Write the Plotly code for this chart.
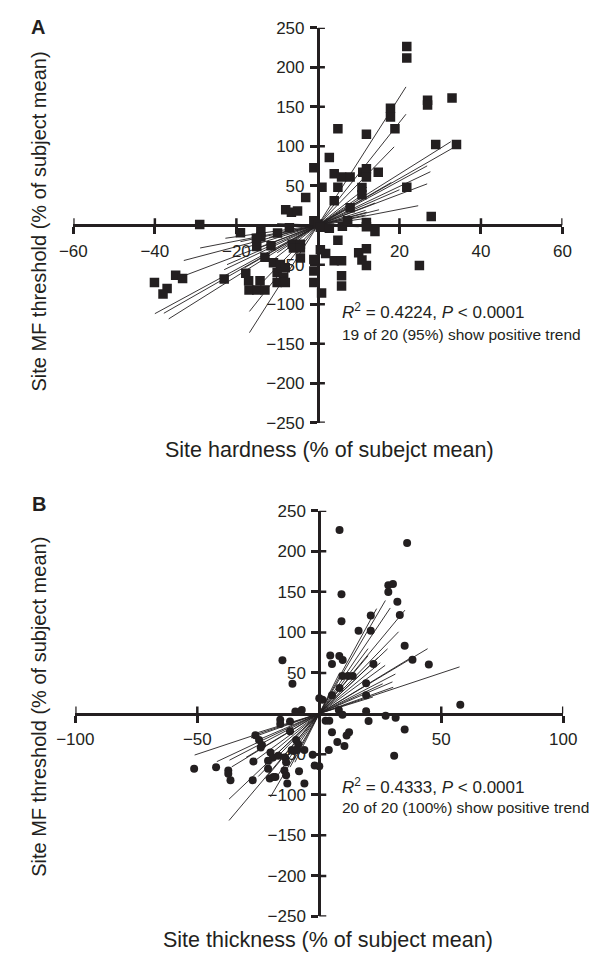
import plotly.graph_objects as go

# ---------------- Panel A data: site hardness vs MF threshold ----------------
hard_x = [21.8, 21.8, 26.9, 26.9, 32.9, 17.8, 17.8, 18.9, 4.9, 11.9,
          28.9, 34.0, 2.8, -1.0, 4.0, 5.8, 7.9, 11.0, 11.9, 11.9,
          14.8, 1.0, 4.9, 10.8, 10.8, 21.8, -3.0, 4.0, -7.9, -6.5,
          -5.0, 7.9, 27.8, -29.0, -19.0, -14.0, -9.9, -7.0, -1.0, 0.0,
          0.6, 2.8, 6.0, 7.3, 11.9, 11.9, 14.0, -15.0, -14.0, -11.5,
          -6.3, -4.3, 4.9, -6.0, -4.3, -13.0, -10.9, -9.2, -8.0, -10.0,
          -8.4, 0.6, 1.9, -1.0, 4.0, 5.8, 10.0, 11.9, 10.8, 11.9,
          24.9, -10.0, -8.0, -17.7, -17.0, -23.0, -16.9, -15.0, -13.0, -14.2,
          -1.0, -1.0, 0.9, 5.8, 5.8, -40.1, -34.9, -33.2, -37.0, -38.0,
          -4.3, -15.1]
hard_y = [226, 211.6, 158, 152, 161, 148, 137, 122, 122, 115,
          102, 102, 85.5, 72.8, 65, 61, 61, 67, 71.5, 61,
          67, 48, 48, 47.6, 38.5, 48, 35, 31, 19.5, 16.5,
          18, 22, 11, 1, -9.6, -8.3, -10, -3.3, 5.5, 1.4,
          -2.7, -4, -1.4, 5.5, 3.5, -2, -8, -27, -15, -26,
          -24, -24, -19, -29, -29, -40.6, -47.7, -49.8, -54, -60,
          -66, -31, -36, -43.5, -45, -45, -35, -30, -44, -51,
          -51, -72.5, -72.5, -61, -70.5, -68, -82, -82, -82, -70.5,
          -58, -72.5, -86, -64, -77, -72.5, -63.4, -67.5, -80, -87,
          -41.5, -16.6]

# per-subject regression lines (slope, x extent)
hard_slope = [8.1, 6.5, 5.3, 3.24, 2.95, 2.8, 2.45, 1.95, 1.36, 1.0,
              2.24, 0.73, 1.6, 1.1, 4.0, 3.5, 2.0, 1.3, 3.0, -0.2]
hard_xmin = [-16.8, -16.8, -13.4, -36.6, -37.8, -40.0, -23.0, -32.4, -32.9, -28.9,
             -22.3, -22.7, -18.0, -19.0, -12.0, -10.0, -15.0, -12.0, -18.0, -10.0]
hard_xmax = [21.6, 21.6, 18.7, 32.6, 33.0, 26.8, 27.6, 26.8, 12.0, 24.6,
             20.0, 11.7, 11.7, 11.7, 12.0, 10.0, 14.0, 15.0, 18.0, 10.0]

# ---------------- Panel B data: site thickness vs MF threshold ----------------
thick_x = [8.3, 36.0, 28.3, 30.2, 28.3, 32.0, 9.1, 33.0, 21.1, 9.1,
           16.1, 21.1, 35.0, 38.2, 44.9, -15.1, 4.5, 5.2, 8.2, 9.6,
           22.2, 9.5, 11.8, 13.7, 19.2, -11.0, 8.3, 0.0, 1.3, 5.2,
           19.2, 57.8, 8.0, 9.5, 19.2, 20.2, 27.2, 31.3, -9.8, -7.2,
           -12.0, -16.0, -16.0, 2.6, 4.1, -12.0, 5.2, 35.0, 12.2, 11.2,
           -26.2, -24.7, -23.5, -24.0, -9.5, -8.6, -10.6, 7.4, 10.3, 3.9,
           -20.0, -19.0, -16.8, -14.0, -13.6, -11.3, -9.1, -6.1, -2.7, -1.9,
           0.0, 30.7, -51.3, -42.3, -37.3, -37.3, -36.4, -27.0, -21.0, -21.0,
           -27.3, -20.3, -18.8, -18.0, -14.3, -13.6, -13.1, -8.3, -6.1]
thick_y = [226, 210, 158, 159.7, 149.8, 137.7, 147, 121.5, 120.8, 113.7,
           102, 102, 83.7, 66.4, 60.4, 65.6, 71.6, 61.1, 70.8, 66,
           61, 46.3, 46.3, 46.3, 37.4, 36.6, 31.5, 19, 17, 22.5,
           22.5, 10.9, 4.4, -1.6, 2.8, -9.2, -2.8, -5.2, 2.4, 4.4,
           -9.7, -7.6, -12.9, -8.9, -8.9, -21.7, -23, -19.7, -23, -27,
           -26.6, -32.6, -38.6, -41.9, -32.6, -37.8, -45.9, -35, -40, -45,
           -48, -54, -52, -54, -60, -45, -45, -45, -50.7, -64,
           -64.8, -52, -68, -66, -70, -74, -82, -59, -58, -68,
           -82, -80, -78, -78, -70, -76, -86, -71, -86]

thick_slope = [5.14, 4.47, 3.63, 3.56, 3.1, 2.85, 1.8, 1.0, 1.83, 1.56,
               1.07, 1.41, 0.93, 2.86, 5.5, 6.0, 2.2, 1.3, 4.0, 2.5]
thick_xmin = [-20.0, -18.0, -22.0, -37.0, -25.0, -37.0, -30.0, -51.1, -35.9, -36.8,
              -28.0, -42.0, -26.9, -22.4, -12.0, -10.0, -27.0, -25.0, -15.0, -20.0]
thick_xmax = [27.1, 29.1, 35.1, 20.0, 32.5, 28.0, 44.4, 57.5, 37.7, 31.2,
              30.3, 26.0, 22.0, 24.0, 23.5, 8.4, 27.0, 30.0, 20.0, 25.0]

# axes ticks
a_xticks = [-60, -40, -20, 20, 40, 60]
b_xticks = [-100, -50, 50, 100]
y_ticks = [-250, -200, -150, -100, -50, 50, 100, 150, 200, 250]

FONT = "Liberation Sans, Arial, sans-serif"
INK = "#231f20"
W, H = 602, 966
TL = 7  # tick half-length (px)

# plot-area pixel boxes (left, right, top, bottom)
A_box = (57.5, 575.0, 19.0, 422.0)
B_box = (59.6, 575.8, 511.7, 925.7)


def dom(box):
    l, r, t, b = box
    return [l / W, r / W], [1 - b / H, 1 - t / H]


fig = go.Figure()

for xs_, ys_, slopes, xmins, xmaxs, sym, msize, ax in [
    (hard_x, hard_y, hard_slope, hard_xmin, hard_xmax, "square", 9.5, ("x", "y")),
    (thick_x, thick_y, thick_slope, thick_xmin, thick_xmax, "circle", 8, ("x2", "y2")),
]:
    for s, x0, x1 in zip(slopes, xmins, xmaxs):
        fig.add_trace(go.Scatter(x=[x0, x1], y=[s * x0, s * x1], mode="lines",
                                 line=dict(color=INK, width=0.9),
                                 xaxis=ax[0], yaxis=ax[1], showlegend=False,
                                 hoverinfo="skip"))
    fig.add_trace(go.Scatter(x=xs_, y=ys_, mode="markers",
                             marker=dict(symbol=sym, size=msize, color=INK,
                                         line=dict(width=0)),
                             xaxis=ax[0], yaxis=ax[1], showlegend=False))

axis_common = dict(showgrid=False, zeroline=False, showline=True, linecolor=INK,
                   linewidth=3, ticks="outside", ticklen=TL, tickwidth=2.5,
                   tickcolor=INK, tickfont=dict(family=FONT, size=17, color=INK),
                   ticklabelstandoff=2,
                   layer="below traces", fixedrange=True)

layout = dict(width=W, height=H, margin=dict(l=0, r=0, t=0, b=0),
              paper_bgcolor="white", plot_bgcolor="rgba(0,0,0,0)",
              showlegend=False, font=dict(family=FONT, color=INK))

for idx, box, xr, xt in [(1, A_box, [-60, 60], a_xticks), (2, B_box, [-100, 100], b_xticks)]:
    xd, yd = dom(box)
    sfx = "" if idx == 1 else str(idx)
    layout["xaxis" + sfx] = dict(axis_common, domain=xd, range=xr, tickvals=xt,
                                 anchor="free", position=(yd[0] + yd[1]) / 2)
    layout["yaxis" + sfx] = dict(axis_common, domain=yd, range=[-250, 250], tickvals=y_ticks,
                                 anchor="free", position=(xd[0] + xd[1]) / 2)

fig.update_layout(**layout)

# inner halves of the crossing tick marks
shapes = []
for xa, ya, xt in [("x", "y", a_xticks), ("x2", "y2", b_xticks)]:
    for v in xt:
        shapes.append(dict(type="line", xref=xa, yref=ya, x0=v, x1=v,
                           ysizemode="pixel", yanchor=0, y0=0, y1=TL,
                           line=dict(color=INK, width=2.5), layer="below"))
    for v in y_ticks:
        shapes.append(dict(type="line", xref=xa, yref=ya, y0=v, y1=v,
                           xsizemode="pixel", xanchor=0, x0=0, x1=TL,
                           line=dict(color=INK, width=2.5), layer="below"))
fig.update_layout(shapes=shapes)

ann = []


def add_text(text, xp, yp, size, xanchor="center", yanchor="middle", angle=0, bold=False):
    if bold:
        text = "<b>" + text + "</b>"
    ann.append(dict(text=text, x=xp / W, y=1 - yp / H, xref="paper", yref="paper",
                    showarrow=False, xanchor=xanchor, yanchor=yanchor, textangle=angle,
                    borderpad=0, font=dict(family=FONT, size=size, color=INK)))


add_text("A", 12, 18, 20, xanchor="left", bold=True)
add_text("B", 13, 505, 20, xanchor="left", bold=True)

add_text("Site hardness (% of subejct mean)", 329, 450, 21.5)
add_text("Site thickness (% of subject mean)", 327, 950, 21.5)
add_text("Site MF threshold (% of subject mean)", 21, 217, 20, angle=-90)
add_text("Site MF threshold (% of subject mean)", 21, 712, 20, angle=-90)

add_text("<i>R</i><sup>2</sup> = 0.4224, <i>P</i> < 0.0001", 341, 308, 17, xanchor="left")
add_text("19 of 20 (95%) show positive trend", 341, 332, 15.5, xanchor="left")
add_text("<i>R</i><sup>2</sup> = 0.4333, <i>P</i> < 0.0001", 341, 793, 17, xanchor="left")
add_text("20 of 20 (100%) show positive trend", 341, 815, 15.5, xanchor="left")

fig.update_layout(annotations=ann)

fig.write_html("out.html", config={"displayModeBar": False},
               post_script="document.body.style.margin='0';document.body.style.overflow='hidden';")
